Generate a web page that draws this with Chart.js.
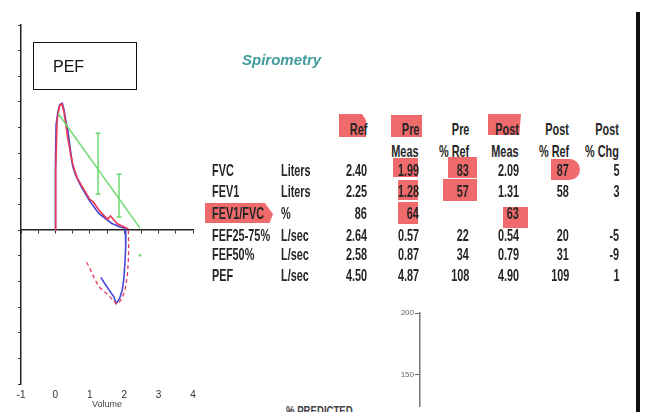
<!DOCTYPE html>
<html>
<head>
<meta charset="utf-8">
<script src="https://cdn.jsdelivr.net/npm/chart.js@4"></script>
<style>
  html, body { margin: 0; padding: 0; background: #fff; }
  #page { position: relative; width: 645px; height: 412px; overflow: hidden; background: #fff;
          font-family: "Liberation Sans", Arial, sans-serif; }
  #loop { position: absolute; left: 0; top: 0; }
  #pred { position: absolute; left: 380px; top: 290px; }
  .t { position: absolute; width: 0; height: 0; }
  .t span { position: absolute; white-space: nowrap; font: bold 17px "Liberation Sans", Arial, sans-serif;
            color: #262626; line-height: 20px; top: -10px; }
  .t.r span { right: 0; transform: scaleX(.64); transform-origin: 100% 50%; }
  .t.l span { left: 0; transform: scaleX(.64); transform-origin: 0 50%; }
  .hl { position: absolute; background: #ef6b6b; }
  #pefbox { position: absolute; left: 33px; top: 42px; width: 102px; height: 46px; border: 1.5px solid #111;
            background: #fff; }
  #pefbox span { position: absolute; left: 19px; top: 15px; font: 16px "Liberation Sans", Arial, sans-serif; color: #111; }
  #title { position: absolute; left: 242px; top: 51px; font: italic bold 15px "Liberation Sans", Arial, sans-serif;
           color: #3f9b9c; }
  #bar { position: absolute; left: 636px; top: 12px; width: 4px; height: 400px; background: #111; }
  #pctpred { position: absolute; left: 286px; top: 404px; font: bold 12px "Liberation Sans", Arial, sans-serif;
             color: #444; transform: scaleX(.8); transform-origin: 0 0; white-space: nowrap; }
</style>
</head>
<body>
<div id="page">
  <canvas id="loop" width="215" height="412"></canvas>
  <canvas id="pred" width="80" height="122"></canvas>
  <div id="pefbox"><span>PEF</span></div>
  <div id="title">Spirometry</div>
  <div id="bar"></div>
  <div id="pctpred">% PREDICTED</div>
</div>
<script>
// flow-volume loop, post (blue)
const postVol  = [0.0, 0.0, 0.02, 0.07, 0.13, 0.2, 0.25, 0.3, 0.36, 0.44, 0.5, 0.6, 0.75, 0.98, 1.26, 1.64, 1.88, 2.03, 2.05,
                  2.04, 2.02, 1.99, 1.94, 1.87, 1.8, 1.76, 1.7, 1.62, 1.52, 1.42, 1.32];
const postFlow = [0.0, 2.5, 4.1, 4.6, 4.9, 4.95, 4.7, 4.3, 3.9, 3.1, 2.5, 2.1, 1.7, 1.17, 0.65, 0.26, 0.12, 0.07, 0.0,
                  -0.6, -1.3, -1.9, -2.35, -2.65, -2.8, -2.85, -2.6, -2.45, -2.25, -2.05, -1.84];
// pre (red)
const preExpVol  = [0.0, 0.01, 0.05, 0.12, 0.19, 0.25, 0.3, 0.36, 0.45, 0.53, 0.63, 0.8, 1.0, 1.1, 1.3, 1.52, 1.6, 1.8, 2.0, 2.12];
const preExpFlow = [0.0, 2.4, 4.3, 4.85, 4.92, 4.6, 4.15, 3.6, 2.9, 2.45, 2.05, 1.65, 1.2, 1.1, 0.72, 0.42, 0.55, 0.25, 0.12, 0.05];
const preInsVol  = [2.12, 2.13, 2.12, 2.09, 2.02, 1.92, 1.8, 1.68, 1.55, 1.42, 1.26, 1.12, 1.02, 0.91];
const preInsFlow = [0.0, -0.6, -1.2, -1.8, -2.35, -2.7, -2.9, -2.75, -2.55, -2.4, -2.2, -1.85, -1.55, -1.25];
// predicted
const predVol  = [0.08, 2.46];
const predFlow = [4.55, 0.08];
const errVol   = [1.24, 1.85];
const errLow   = [1.4, 0.51];
const errHigh  = [3.78, 2.18];
const strayVol = [2.46];
const strayFlow = [-0.98];

// table
const headers1 = ["Ref", "Pre", "Pre", "Post", "Post", "Post"];
const headers2 = ["", "Meas", "% Ref", "Meas", "% Ref", "% Chg"];
const params = ["FVC", "FEV1", "FEV1/FVC", "FEF25-75%", "FEF50%", "PEF"];
const units = ["Liters", "Liters", "%", "L/sec", "L/sec", "L/sec"];
const refVals = ["2.40", "2.25", "86", "2.64", "2.58", "4.50"];
const preMeas = ["1.99", "1.28", "64", "0.57", "0.87", "4.87"];
const prePctRef = ["83", "57", "", "22", "34", "108"];
const postMeas = ["2.09", "1.31", "63", "0.54", "0.79", "4.90"];
const postPctRef = ["87", "58", "", "20", "31", "109"];
const postPctChg = ["5", "3", "", "-5", "-9", "1"];

// % predicted axis ticks
const pctTicks = [150, 200];

const pts = (xs, ys) => xs.map((x, i) => ({ x: x, y: ys[i] }));

const page = document.getElementById("page");

// highlights (drawn under the text)
const marks = [
  { x: 339, y: 114, w: 27, h: 23, clip: "polygon(0 0,85% 0,100% 25%,100% 100%,0 100%)" },
  { x: 391, y: 115, w: 31, h: 22 },
  { x: 488, y: 114, w: 33, h: 21, clip: "polygon(0 0,100% 0,95% 100%,0 100%)" },
  { x: 393, y: 158, w: 25, h: 19 },
  { x: 448, y: 157, w: 29, h: 21 },
  { x: 551, y: 159, w: 29, h: 21, radius: "0 11px 11px 0" },
  { x: 398, y: 180, w: 20, h: 20 },
  { x: 443, y: 179, w: 34, h: 22 },
  { x: 205, y: 203, w: 68, h: 20, clip: "polygon(0 0,88% 0,100% 55%,95% 100%,0 100%)" },
  { x: 398, y: 202, w: 20, h: 22 },
  { x: 503, y: 207, w: 25, h: 21 }
];
marks.forEach(m => {
  const d = document.createElement("div");
  d.className = "hl";
  d.style.left = m.x + "px"; d.style.top = m.y + "px";
  d.style.width = m.w + "px"; d.style.height = m.h + "px";
  if (m.clip) d.style.clipPath = m.clip;
  if (m.radius) d.style.borderRadius = m.radius;
  page.appendChild(d);
});

function addText(txt, x, y, align) {
  if (txt === "") return;
  const d = document.createElement("div");
  d.className = "t " + align;
  d.style.left = x + "px"; d.style.top = y + "px";
  const s = document.createElement("span");
  s.textContent = txt;
  d.appendChild(s);
  page.appendChild(d);
}

const colRight = [367, 419, 469, 519, 569, 619];
const rowY = [171, 192, 214, 236, 255, 276];
headers1.forEach((h, i) => addText(h, colRight[i], 130, "r"));
headers2.forEach((h, i) => addText(h, colRight[i], 152, "r"));
const cols = [refVals, preMeas, prePctRef, postMeas, postPctRef, postPctChg];
params.forEach((p, r) => {
  addText(p, 212, rowY[r], "l");
  addText(units[r], 281, rowY[r], "l");
  cols.forEach((c, i) => addText(c[r], colRight[i], rowY[r], "r"));
});

const green = "#6fd86f";
const blue = "#4646d6";
const red = "#e83a55";

const errSets = errVol.map((v, i) => ({
  data: [{ x: v, y: errLow[i] }, { x: v, y: errHigh[i] }],
  showLine: true, borderColor: green, borderWidth: 1.5,
  pointStyle: "line", pointRadius: 2.5, pointBorderWidth: 1.5
}));

new Chart(document.getElementById("loop"), {
  type: "scatter",
  data: {
    datasets: [
      { data: pts(predVol, predFlow), showLine: true, borderColor: green, borderWidth: 1.5, pointRadius: 0 },
      ...errSets,
      { data: pts(strayVol, strayFlow), borderColor: green, backgroundColor: green, pointRadius: 1 },
      { data: pts(preExpVol, preExpFlow), showLine: true, borderColor: red, borderWidth: 1.6, pointRadius: 0 },
      { data: pts(preInsVol, preInsFlow), showLine: true, borderColor: red, borderWidth: 1.3, borderDash: [4, 3], pointRadius: 0 },
      { data: pts(postVol, postFlow), showLine: true, borderColor: blue, borderWidth: 1.6, pointRadius: 0 }
    ]
  },
  options: {
    responsive: false,
    animation: false,
    layout: { padding: { top: 25, right: 22, left: 0, bottom: 0 } },
    plugins: { legend: { display: false }, tooltip: { enabled: false } },
    scales: {
      x: {
        type: "linear", min: -1, max: 4, position: "bottom",
        ticks: { stepSize: 1, color: "#333", font: { size: 10 }, padding: 5, maxRotation: 0 },
        grid: { display: false, drawTicks: false },
        border: { display: false },
        title: { display: true, text: "Volume", color: "#444", font: { size: 9 }, padding: { top: 0, bottom: 2 } },
        afterFit: s => { s.height = 28; }
      },
      x0: {
        type: "linear", axis: "x", min: -1, max: 4, position: { y: 0 },
        ticks: { display: false, stepSize: 0.5 },
        grid: { drawOnChartArea: false, tickLength: 3, color: "#333" },
        border: { color: "#222", width: 1.5 },
        afterFit: s => { s.height = 0; }
      },
      y: {
        type: "linear", min: -6, max: 8, position: "left",
        ticks: { display: false, stepSize: 1 },
        grid: { drawOnChartArea: false, tickLength: 3, color: "#333" },
        border: { color: "#222", width: 1.5 },
        afterFit: s => { s.width = 21; }
      }
    }
  }
});

new Chart(document.getElementById("pred"), {
  type: "bar",
  data: { labels: [""], datasets: [{ data: [] }] },
  options: {
    responsive: false,
    animation: false,
    layout: { padding: { top: 23, right: 0, left: 0, bottom: 0 } },
    plugins: { legend: { display: false }, tooltip: { enabled: false } },
    scales: {
      x: { display: false },
      y: {
        min: 124, max: 200,
        afterBuildTicks: s => { s.ticks = pctTicks.map(v => ({ value: v })); },
        ticks: { color: "#666", font: { size: 8 }, padding: 1 },
        grid: { drawOnChartArea: false, tickLength: 5, color: "#666" },
        border: { color: "#777", width: 1.5 },
        afterFit: s => { s.width = 40; }
      }
    }
  }
});
</script>
</body>
</html>
